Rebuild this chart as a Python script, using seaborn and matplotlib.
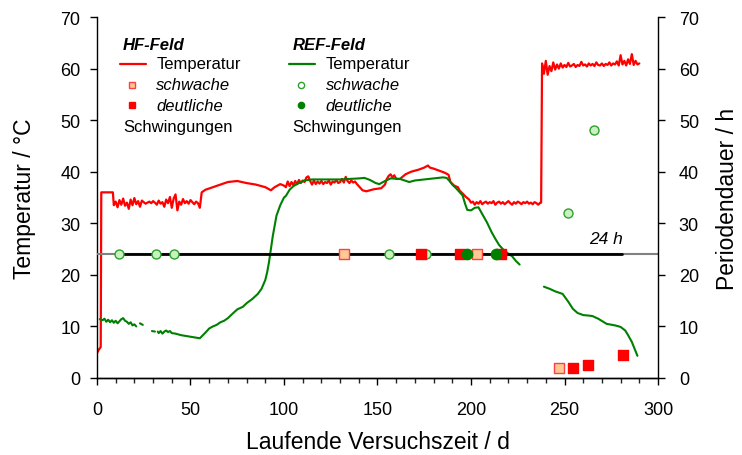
import matplotlib
matplotlib.use("Agg")
import matplotlib.pyplot as plt
import seaborn as sns
import numpy as np
import pandas as pd
from matplotlib.lines import Line2D

# HF-Feld temperature (red)
hf_day = [0, 1, 2, 2.3, 8.5, 9,
          10, 11, 12, 13, 14, 15, 16, 17, 18, 19, 20, 21, 22, 23, 24, 25, 26, 27, 28, 29,
          30, 31, 32, 33, 34, 35, 36, 37, 38, 39, 40, 41, 42, 43, 44, 45, 46, 47, 48, 49,
          50, 51, 52, 53, 54, 55, 56, 58, 62, 66, 70, 75, 80, 85, 90, 93, 95, 98, 100,
          101, 102, 103, 104, 105, 106, 107, 108, 109, 110, 111, 112, 113, 114, 115, 116,
          117, 118, 119, 120, 121, 122, 123, 124, 125, 126, 127, 128, 129, 130, 131, 132,
          133, 134, 135, 136, 137, 138, 139, 140, 141, 142, 144, 148, 152, 154, 155, 156,
          157, 158, 159, 160, 162, 165, 168, 172, 175, 177, 178, 180, 183, 186, 188, 189,
          191, 193, 194, 196, 197, 199, 200,
          201, 202, 203, 204, 205, 206, 207, 208, 209, 210, 211, 212, 213, 214, 215, 216,
          217, 218, 219, 220, 221, 222, 223, 224, 225, 226, 227, 228, 229, 230, 231, 232,
          233, 234, 235, 236, 237, 237.5, 238,
          239, 240, 241, 242, 243, 244, 245, 246, 247, 248, 249, 250, 251, 252, 253, 254,
          255, 256, 257, 258, 259, 260, 261, 262, 263, 264, 265, 266, 267, 268, 269, 270,
          271, 272, 273, 274, 275, 276, 277, 278, 279, 280, 281, 282, 283, 284, 285, 286,
          287, 288, 289, 290]
hf_temp = [4.8, 5.5, 6.0, 36.0, 36.0, 33.5,
           34.2, 33.1, 34.5, 33.6, 34.8, 33.4, 34.0, 32.8, 34.6, 33.5, 34.9, 33.7, 34.3, 33.2, 34.4, 34.1, 33.8, 34.0, 34.2, 33.9,
           34.3, 34.0, 33.6, 34.4, 33.8, 34.1, 33.2, 34.6, 33.9, 35.1, 33.0, 34.8, 35.6, 32.5, 34.2, 33.6, 34.7, 33.9, 34.3, 33.8,
           34.5, 34.1, 33.7, 34.2, 33.9, 33.0, 36.0, 36.5, 37.0, 37.5, 38.0, 38.2, 37.8, 37.5, 37.0, 36.4, 37.0, 37.6, 37.3,
           37.0, 38.1, 37.2, 38.0, 37.4, 38.2, 37.6, 38.4, 37.8, 38.3, 38.0, 38.9, 39.1, 38.2, 37.5, 38.3,
           37.6, 38.1, 37.7, 38.2, 37.6, 38.0, 37.8, 38.3, 37.5, 38.1, 37.9, 38.4, 37.8, 38.0, 38.6, 37.9,
           39.0, 38.2, 37.8, 38.3, 37.9, 38.1, 37.6, 37.2, 36.8, 36.4, 36.2, 36.6, 36.8, 37.5, 38.6, 39.2,
           39.5, 38.9, 39.3, 38.6, 38.6, 39.5, 40.0, 40.4, 40.8, 41.2, 40.8, 40.6, 40.2, 39.8, 39.4, 38.0,
           37.3, 37.0, 36.3, 35.6, 35.2, 34.6, 34.0,
           34.2, 33.6, 34.1, 33.8, 34.3, 33.7, 34.0, 34.2, 33.8, 34.1, 33.9, 34.3, 33.6, 34.0, 34.2, 33.8,
           34.1, 33.7, 34.0, 34.3, 33.9, 33.6, 34.1, 33.8, 34.2, 34.0, 33.7, 34.1, 33.9, 34.2, 33.8, 34.0,
           33.7, 34.1, 33.9, 33.6, 34.0, 34.0, 61.0,
           59.0, 61.5, 58.8, 60.5, 59.5, 61.2, 59.8, 60.8, 60.0, 61.0, 60.2, 60.7, 60.3, 61.1, 60.4, 60.6,
           60.9, 60.3, 60.7, 60.5, 61.3, 60.6, 60.8, 60.4, 61.0, 60.6, 60.9, 60.5, 61.2, 60.7, 60.6, 61.0,
           60.5, 60.9, 60.7, 61.2, 60.6, 61.0, 60.8, 61.4, 60.6, 62.6, 60.8, 61.5, 60.6, 61.8, 60.9, 62.8,
           60.7, 61.5, 60.8, 61.0]

# REF-Feld temperature (green), NaN marks gaps in the record
ref_day = [1.5, 3, 4, 5, 6, 7, 8, 9, 10, 11, 12, 13, 14, 15, 16, 17, 18, 19, 20, 21,
           22, 23, 24.5, 26, 29.4, 31, 32, 32.5, 33, 34, 35, 36, 37, 38, 39, 40, 42, 45, 50, 55,
           58, 60, 62, 64, 66, 68, 70, 72, 75, 78, 80, 83, 86, 88, 90, 91, 92, 93, 94, 95, 96,
           98, 100, 101, 103, 105, 108, 111, 115, 120, 130, 135, 140, 143, 146, 149, 151, 154,
           157, 162, 167, 170, 175, 180, 185, 187, 189, 190, 192, 194, 195.5, 197, 198, 200,
           202, 204, 206, 208.5, 211, 213, 215, 218, 220, 222, 224, 226, 232,
           239, 242, 245, 249, 252, 254.5, 257, 260, 263, 265, 268, 272.5, 277, 280, 282.5,
           284, 286, 289]
ref_temp = [11.4, 11.2, 11.5, 10.9, 11.3, 10.8, 11.2, 10.7, 11.1, 10.6, 11.0, 11.4, 11.6, 11.1, 10.9, 10.5, 10.8, 10.2, 10.4, 10.0,
            np.nan, 10.6, 10.3, np.nan, 9.1, 9.0, np.nan, 9.0, 8.7, 9.1, 8.6, 9.0, 9.2, 8.9, 9.1, 8.7, 8.6, 8.3, 8.0, 7.7,
            8.8, 9.6, 10.0, 10.3, 10.8, 11.1, 11.6, 12.3, 13.3, 13.8, 14.5, 15.3, 16.3, 17.3, 19.0, 20.5, 22.5, 25.0, 27.5, 29.5, 31.5,
            33.5, 35.0, 35.3, 36.5, 37.2, 37.8, 38.3, 38.5, 38.5, 38.5, 38.6, 38.7, 38.8, 38.4, 37.8, 37.6, 38.2,
            38.7, 38.6, 38.0, 38.3, 38.5, 38.7, 38.9, 38.8, 38.0, 37.5, 36.8, 36.0, 35.4, 33.6, 32.6, 32.5,
            33.0, 33.1, 31.8, 30.2, 28.3, 27.0, 25.8, 24.6, 24.1, 23.6, 22.7, 22.0, np.nan,
            17.7, 17.3, 16.8, 16.3, 14.8, 13.4, 12.6, 12.2, 12.1, 12.0, 11.5, 10.5, 10.2, 9.9, 9.2,
            8.3, 7.0, 4.3]

# oscillation periods (right axis, hours)
hf_weak_day = [132, 203, 247]
hf_weak_h = [24, 24, 1.9]
hf_strong_day = [173.5, 194, 216, 254.6, 262.6, 281.3]
hf_strong_h = [24, 24, 24, 1.9, 2.6, 4.5]
ref_weak_day = [12, 31.5, 41, 156, 176, 252, 266]
ref_weak_h = [24, 24, 24, 24, 24, 32, 48]
ref_strong_day = [198, 213.5]
ref_strong_h = [24, 24]

line24_full = ([0, 300], [24, 24])
line24_black = ([12, 281], [24, 24])

x_ticks = [0, 50, 100, 150, 200, 250, 300]
y_ticks = [0, 10, 20, 30, 40, 50, 60, 70]

RED = "#ff0000"
GREEN = "#008000"

sns.set_style("ticks")
plt.rcParams["font.family"] = ["Liberation Sans", "DejaVu Sans"]
plt.rcParams["text.color"] = "black"
plt.rcParams["axes.labelcolor"] = "black"

fig = plt.figure(figsize=(7.42, 4.56), dpi=100)
ax = fig.add_axes([0.1307, 0.1689, 0.7561, 0.7916])
ax2 = ax.twinx()

hf = pd.DataFrame({"day": hf_day, "temp": hf_temp})
ref = pd.DataFrame({"day": ref_day, "temp": ref_temp})
ref["seg"] = ref["temp"].isna().cumsum()
ref = ref.dropna()

sns.lineplot(data=hf, x="day", y="temp", color=RED, lw=1.6, estimator=None,
             sort=False, ax=ax)
sns.lineplot(data=ref, x="day", y="temp", units="seg", color=GREEN, lw=1.5,
             estimator=None, sort=False, ax=ax)

# 24 h reference line
ax2.plot(*line24_full, color="#808080", lw=1.5, zorder=1)
ax2.plot(*line24_black, color="black", lw=2, zorder=2)
ax2.text(272, 25.6, "24 h", fontsize=12.5, style="italic", ha="center", va="bottom")

sns.scatterplot(x=ref_weak_day, y=ref_weak_h, marker="o", s=42, color="#c8f0c0",
                edgecolor="#2ea02e", linewidth=1, ax=ax2, zorder=3)
sns.scatterplot(x=hf_strong_day, y=hf_strong_h, marker="s", s=60, color=RED,
                edgecolor=RED, linewidth=1, ax=ax2, zorder=4)
sns.scatterplot(x=hf_weak_day, y=hf_weak_h, marker="s", s=50, color="#ffc896",
                edgecolor="#ff4040", linewidth=1, ax=ax2, zorder=4)
sns.scatterplot(x=ref_strong_day, y=ref_strong_h, marker="o", s=55, color=GREEN,
                edgecolor=GREEN, linewidth=1, ax=ax2, zorder=5)

for a in (ax, ax2):
    a.set_xlim(0, 300)
    a.set_ylim(0, 70)
    a.set_yticks(y_ticks)
    a.tick_params(labelsize=13, direction="out", length=5, width=1, colors="black")
    a.tick_params(axis="y", pad=7)
    a.spines["top"].set_visible(False)
    for s in a.spines.values():
        s.set_color("black")
        s.set_linewidth(1)

ax2.tick_params(axis="y", pad=10)
ax.set_xticks(x_ticks)
ax.set_xticks(np.arange(0, 301, 10), minor=True)
ax.tick_params(axis="x", which="major", pad=11.5)
ax.tick_params(axis="x", which="minor", direction="out", length=3.5, width=1)
ax.spines["right"].set_visible(False)
ax2.spines["left"].set_visible(False)
ax2.spines["right"].set_visible(True)

ax.set_xlabel("Laufende Versuchszeit / d", fontsize=16.5, labelpad=9)
ax.set_ylabel("Temperatur / °C", fontsize=16.5, labelpad=17)
ax2.set_ylabel("Periodendauer / h", fontsize=16.5, labelpad=12)

# hand-made legend, two columns
def legend_block(x0, title, color, weak, strong):
    tr = ax.transAxes
    ax.text(x0, 0.925, title, transform=tr, fontsize=12, weight="bold", style="italic",
            va="center", ha="left")
    ax.add_line(Line2D([x0 - 0.005, x0 + 0.041], [0.870, 0.870], transform=tr,
                       color=color, lw=1.6))
    ax.text(x0 + 0.06, 0.870, "Temperatur", transform=tr, fontsize=12, va="center")
    ax.add_line(Line2D([x0 + 0.016], [0.812], transform=tr, **weak))
    ax.text(x0 + 0.06, 0.812, "schwache", transform=tr, fontsize=12, style="italic",
            va="center")
    ax.add_line(Line2D([x0 + 0.016], [0.756], transform=tr, **strong))
    ax.text(x0 + 0.06, 0.756, "deutliche", transform=tr, fontsize=12, style="italic",
            va="center")
    ax.text(x0, 0.698, "Schwingungen", transform=tr, fontsize=12, va="center")

legend_block(0.046, "HF-Feld", RED,
             dict(marker="s", ms=5, mfc="#ffc896", mec="#ff4040", ls="none"),
             dict(marker="s", ms=5, mfc=RED, mec=RED, ls="none"))
legend_block(0.348, "REF-Feld", GREEN,
             dict(marker="o", ms=4.5, mfc="white", mec="#2ea02e", ls="none"),
             dict(marker="o", ms=4.5, mfc=GREEN, mec=GREEN, ls="none"))

fig.savefig("out.png", dpi=100)
